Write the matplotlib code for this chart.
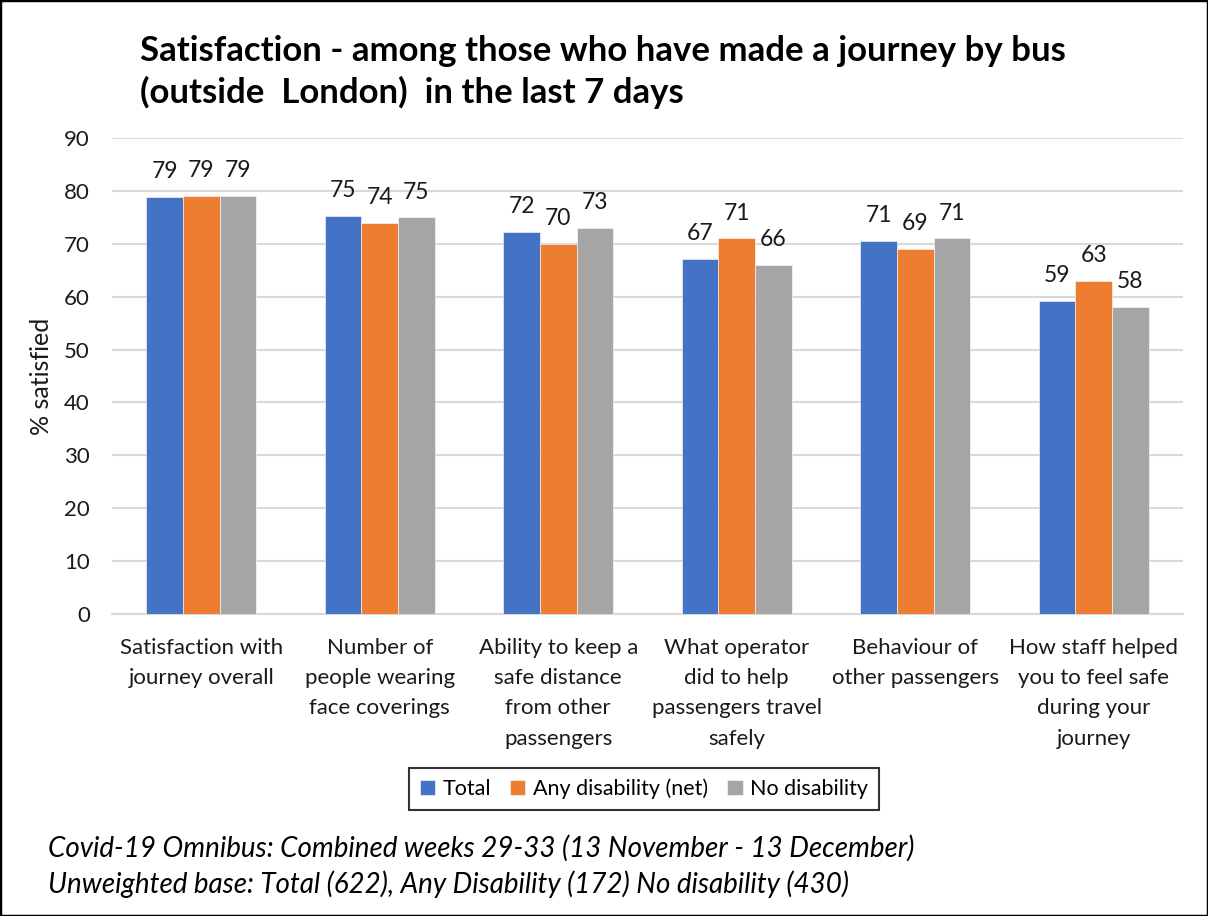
import matplotlib

matplotlib.use("Agg")
import matplotlib.pyplot as plt
import numpy as np
from matplotlib.patches import Rectangle

plt.rcParams["font.family"] = ["Lato", "DejaVu Sans"]

W, H = 1208, 916

categories = [
    "Satisfaction with\njourney overall",
    "Number of\npeople wearing\nface coverings",
    "Ability to keep a\nsafe distance\nfrom other\npassengers",
    "What operator\ndid to help\npassengers travel\nsafely",
    "Behaviour of\nother passengers",
    "How staff helped\nyou to feel safe\nduring your\njourney",
]
series_names = ["Total", "Any disability (net)", "No disability"]
total = [78.8, 75.3, 72.3, 67.2, 70.6, 59.2]
any_disability = [79.0, 74.0, 70.0, 71.0, 69.1, 63.0]
no_disability = [79.0, 75.0, 73.0, 66.0, 71.0, 58.0]
colors = ["#4472C4", "#ED7D31", "#A5A5A5"]

title = "Satisfaction - among those who have made a journey by bus\n(outside  London)  in the last 7 days"
notes = ["Covid-19 Omnibus: Combined weeks 29-33 (13 November - 13 December)",
         "Unweighted base: Total (622), Any Disability (172) No disability (430)"]


def fx(x):
    return x / W


def fy(y):
    return 1 - y / H


fig = plt.figure(figsize=(W / 100, H / 100), dpi=100)
fig.patch.set_facecolor("white")
ax = fig.add_axes([fx(112), fy(614), fx(1183) - fx(112), fy(138) - fy(614)])

x = np.arange(len(categories))
bw = 0.205
handles = []
for i, (vals, c) in enumerate(zip([total, any_disability, no_disability], colors)):
    bars = ax.bar(x + (i - 1) * bw, vals, bw, color=c, edgecolor="white", linewidth=0.4,
                  zorder=3, label=series_names[i])
    handles.append(bars)
    for b, v in zip(bars, vals):
        ax.annotate(f"{v:.0f}", (b.get_x() + b.get_width() / 2, v), xytext=(0, 13.5),
                    textcoords="offset points", ha="center", va="baseline", fontsize=16.5,
                    color="#1a1a1a")

ax.set_xlim(-0.5, len(categories) - 0.5)
ax.set_ylim(0, 90)
ax.set_yticks(range(0, 91, 10))
ax.grid(axis="y", color="#D9D9D9", lw=1.5, zorder=0)
for s in ["top", "right", "left"]:
    ax.spines[s].set_visible(False)
ax.spines["bottom"].set_color("#D9D9D9")
ax.spines["bottom"].set_linewidth(1.5)
ax.tick_params(axis="both", length=0, labelsize=16, colors="#1a1a1a")
ax.tick_params(axis="y", pad=16)
ax.tick_params(axis="x", pad=17)
ax.set_xticks(x)
ax.set_xticklabels(categories, linespacing=1.65, va="top", fontsize=16)
ax.set_ylabel("% satisfied", fontsize=18, color="#1a1a1a", labelpad=8)

fig.text(fx(140), fy(72), title, ha="left", va="center", fontsize=25, fontweight="bold",
         linespacing=1.35, color="black")

leg = fig.legend(handles=handles, loc="center", bbox_to_anchor=(fx(644), fy(789)), ncol=3,
                 fontsize=15.5, frameon=True, fancybox=False, edgecolor="black",
                 handlelength=0.7, handleheight=0.7, handletextpad=0.35, columnspacing=0.9,
                 borderpad=0.5)
leg.get_frame().set_linewidth(1.5)

for k, t in enumerate(notes):
    fig.text(fx(48), fy(848 + 36 * k), t, ha="left", va="center", fontsize=20,
             style="italic", color="black")

fig.patches.append(Rectangle((0, 0), 1, 1, transform=fig.transFigure, fill=False,
                             ec="black", lw=2.5))

fig.savefig("out.png", dpi=100, facecolor="white")
